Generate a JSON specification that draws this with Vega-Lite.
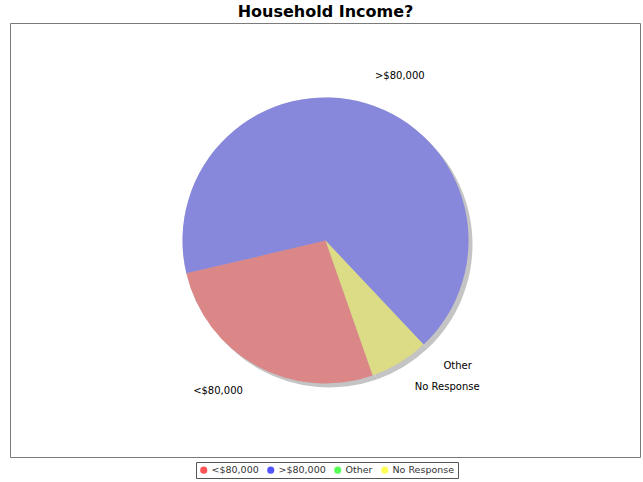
{
  "$schema": "https://vega.github.io/schema/vega-lite/v6.json",
  "width": 631,
  "height": 435,
  "autosize": {"type": "none"},
  "padding": {"left": 10, "top": 23, "right": 2, "bottom": 24},
  "background": "white",
  "title": {"text": "Household Income?", "font": "DejaVu Sans", "fontSize": 16, "fontWeight": "bold", "color": "#000000", "anchor": "middle", "offset": 3},
  "config": {"view": {"stroke": null}},
  "data": {"values": [
    {"category": "<$80,000", "count": 4, "order": 1},
    {"category": ">$80,000", "count": 10, "order": 2},
    {"category": "Other", "count": 0, "order": 3},
    {"category": "No Response", "count": 1, "order": 4}
  ]},
  "layer": [
    {
      "data": {"values": [{"frame": 1}]},
      "mark": {"type": "rect", "fill": null, "stroke": "#7A7A7A", "strokeWidth": 1},
      "encoding": {
        "x": {"value": 0.5},
        "x2": {"value": {"expr": "width - 0.5"}},
        "y": {"value": 0.5},
        "y2": {"value": {"expr": "height - 0.5"}}
      }
    },
    {
      "mark": {"type": "arc", "radius": 143, "fill": "#C4C4C4", "x": {"expr": "width/2+4"}, "y": {"expr": "height/2+4"}},
      "encoding": {
        "theta": {"field": "count", "type": "quantitative", "stack": true, "scale": {"range": [2.805, 9.088]}},
        "order": {"field": "order", "type": "quantitative"}
      }
    },
    {
      "mark": {"type": "arc", "radius": 143, "fill": "#B8B8B8"},
      "encoding": {
        "theta": {"field": "count", "type": "quantitative", "stack": true},
        "order": {"field": "order", "type": "quantitative"}
      }
    },
    {
      "mark": {"type": "arc", "radius": 143, "opacity": 0.5},
      "encoding": {
        "theta": {"field": "count", "type": "quantitative", "stack": true},
        "order": {"field": "order", "type": "quantitative"},
        "color": {
          "field": "category",
          "type": "nominal",
          "scale": {"domain": ["<$80,000", ">$80,000", "Other", "No Response"], "range": ["#FF5555", "#5555FF", "#55FF55", "#FFFF55"]},
          "legend": {
            "orient": "none", "legendX": 186, "legendY": 439, "direction": "horizontal", "title": null,
            "symbolType": "circle", "symbolSize": 50, "symbolOpacity": 1, "symbolStrokeWidth": 0,
            "labelFont": "DejaVu Sans", "labelFontSize": 9.5, "labelColor": "#333333",
            "columnPadding": 7, "labelOffset": 3, "padding": 3,
            "strokeColor": "#555555", "fillColor": "white", "cornerRadius": 0
          }
        }
      }
    },
    {
      "mark": {"type": "text", "radius": 172, "font": "DejaVu Sans", "fontSize": 10, "color": "#000000", "baseline": "middle",
        "align": {"expr": "datum.category === '<$80,000' ? 'right' : 'left'"}},
      "encoding": {
        "theta": {"field": "count", "type": "quantitative", "stack": true},
        "order": {"field": "order", "type": "quantitative"},
        "text": {"field": "category", "type": "nominal"}
      }
    }
  ]
}
